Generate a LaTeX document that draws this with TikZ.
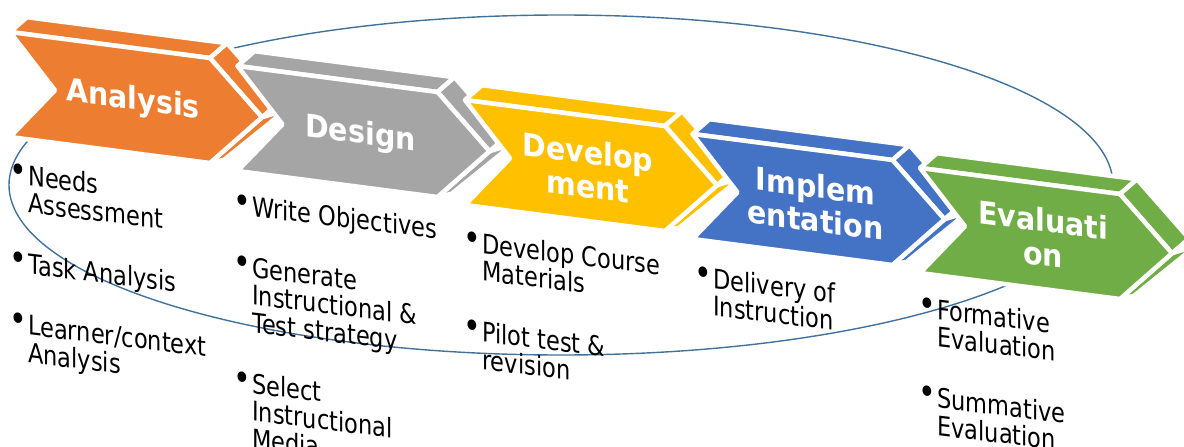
\documentclass[tikz,border=0pt]{standalone}
\usepackage{fontspec}
\setmainfont{DejaVu Sans}
\definecolor{anaorange}{HTML}{ED7D31}
\definecolor{desgray}{HTML}{A5A5A5}
\definecolor{devyellow}{HTML}{FFC000}
\definecolor{impblue}{HTML}{4472C4}
\definecolor{evalgreen}{HTML}{70AD47}
\definecolor{loopblue}{RGB}{65,113,156}
\newcommand{\bul}{\makebox[11pt][l]{\raisebox{1.6pt}{\fontsize{30}{30}\selectfont\kern-7.8pt •}}}
\newcommand{\itemline}[1]{\hbox{\bul#1}}
\newcommand{\moreline}[1]{\hbox{\hspace{11pt}#1}}
\newcommand{\itemgap}{\vskip28pt}
\newcommand{\pointlist}[1]{\vtop{\lineskiplimit=-100pt\relax\baselineskip=22.9pt\relax#1}}

\begin{document}
\begin{tikzpicture}[x=1pt,y=1pt,
	chevface/.style={fill=#1, draw=white, line width=4.5pt, line join=round},
	phasetitle/.style={text=white, font=\fontsize{28.5}{31}\selectfont\bfseries, align=center, inner sep=0pt, yscale=1.1, transform shape},
	steplist/.style={anchor=base west, inner sep=0pt, font=\fontsize{22.5}{22.9}\selectfont, yscale=1.2, transform shape}]
	% Frame of the picture
	\useasboundingbox (0,0) rectangle (1184,-447);
	\clip (0,0) rectangle (1184,-447);
	% Loop round the phases
	\draw[loopblue, line width=1.4pt] (561,-185) ellipse [x radius=552, y radius=170];
	% Create Chevrons
	\foreach \i/\col/\name/\txt in {0/anaorange/analysis/Analysis, 1/desgray/design/Design, 2/devyellow/development/{Develop\\ment}, 3/impblue/implementation/{Implem\\entation}, 4/evalgreen/evaluation/{Evaluati\\on}}{
		\begin{scope}[shift={(10+227.5*\i,-32-34*\i)}, yslant=-0.13]
			% lower side, mostly hidden
			\draw[chevface=\col] (252,-52.5) -- (200,-105) -- (214,-100) -- (276,-42) -- cycle;
			% top and right side
			\draw[chevface=\col] (0,0) -- (200,0) -- (217,17) -- (17,17) -- cycle;
			\draw[chevface=\col] (200,0) -- (252,-52.5) -- (269,-35.5) -- (217,17) -- cycle;
			% front
			\draw[chevface=\col] (0,0) -- (200,0) -- (252,-52.5) -- (200,-105) -- (0,-105) -- (45,-52.5) -- cycle;
			\node[phasetitle] (\name) at (123,-53) {\txt};
		\end{scope}
	}
	% Add the lists
	\begin{scope}[shift={(17,-184)}, yslant=-0.12]
		\node[steplist] (analysislist) at (0,0) {\pointlist{
			\itemline{Needs}\moreline{Assessment}\itemgap
			\itemline{Task Analysis}\itemgap
			\itemline{Learner/context}\moreline{Analysis}}};
	\end{scope}
	\begin{scope}[shift={(241,-215)}, yslant=-0.12]
		\node[steplist] (designlist) at (0,0) {\pointlist{
			\itemline{Write Objectives}\itemgap
			\itemline{Generate}\moreline{Instructional \&}\moreline{Test strategy}\itemgap
			\itemline{Select}\moreline{Instructional}\moreline{Media}}};
	\end{scope}
	\begin{scope}[shift={(471,-252)}, yslant=-0.12]
		\node[steplist] (developmentlist) at (0,0) {\pointlist{
			\itemline{Develop Course}\moreline{Materials}\itemgap
			\itemline{Pilot test \&}\moreline{revision}}};
	\end{scope}
	\begin{scope}[shift={(702,-287)}, yslant=-0.12]
		\node[steplist] (implementationlist) at (0,0) {\pointlist{
			\itemline{Delivery of}\moreline{Instruction}}};
	\end{scope}
	\begin{scope}[shift={(926,-318)}, yslant=-0.12]
		\node[steplist] (evaluationlist) at (0,0) {\pointlist{
			\itemline{Formative}\moreline{Evaluation}\itemgap
			\itemline{Summative}\moreline{Evaluation}}};
	\end{scope}
\end{tikzpicture}
\end{document}
